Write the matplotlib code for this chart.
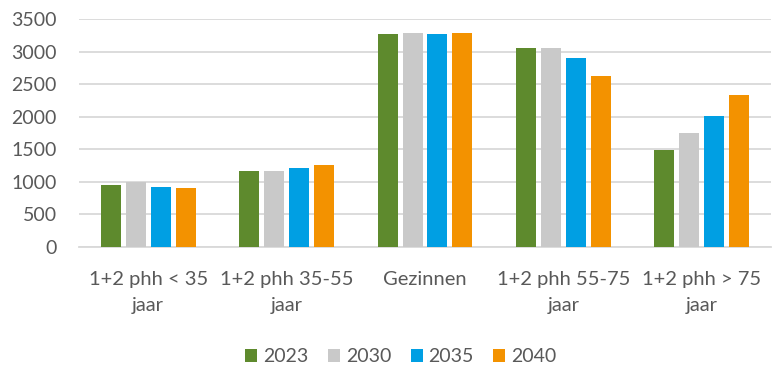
import matplotlib.pyplot as plt
import numpy as np

plt.rcParams['font.family'] = ['Lato', 'DejaVu Sans']

categories = ['1+2 phh < 35\njaar', '1+2 phh 35-55\njaar', 'Gezinnen',
              '1+2 phh 55-75\njaar', '1+2 phh > 75\njaar']
years = ['2023', '2030', '2035', '2040']
v2023 = [952, 1167, 3270, 3055, 1490]
v2030 = [1003, 1167, 3285, 3055, 1750]
v2035 = [921, 1213, 3270, 2900, 2010]
v2040 = [906, 1259, 3285, 2625, 2333]
colors = ['#5E8A2D', '#C9C9C9', '#009FE3', '#F39200']

fig = plt.figure(figsize=(7.76, 3.72), dpi=100)
ax = fig.add_axes([79 / 776, 125 / 372, 692 / 776, 228 / 372])

x = np.arange(len(categories))
w = 0.145
step = 0.18
for i, (vals, c, lab) in enumerate(zip([v2023, v2030, v2035, v2040], colors, years)):
    ax.bar(x + (i - 1.5) * step, vals, width=w, color=c, label=lab, zorder=3)

ax.set_xlim(-0.5, len(categories) - 0.5)
ax.set_ylim(0, 3500)
ax.set_yticks(range(0, 3501, 500))
ax.set_xticks(x)
ax.set_xticklabels(categories, linespacing=1.62)
ax.tick_params(axis='both', length=0, labelsize=14, colors='#595959')
ax.tick_params(axis='x', labelsize=14.5, pad=17.5)
ax.tick_params(axis='y', pad=16)
ax.grid(axis='y', color='#D9D9D9', linewidth=1.3, zorder=0)
for s in ['top', 'right', 'left']:
    ax.spines[s].set_visible(False)
ax.spines['bottom'].set_color('#D9D9D9')
ax.spines['bottom'].set_linewidth(1.3)

fig.legend(loc='center', bbox_to_anchor=(401 / 776, 1 - 357 / 372), ncol=4,
           frameon=False, fontsize=14, labelcolor='#595959',
           handlelength=0.62, handleheight=0.62, handletextpad=0.3, columnspacing=1.0)

fig.savefig('out.png', dpi=100)
